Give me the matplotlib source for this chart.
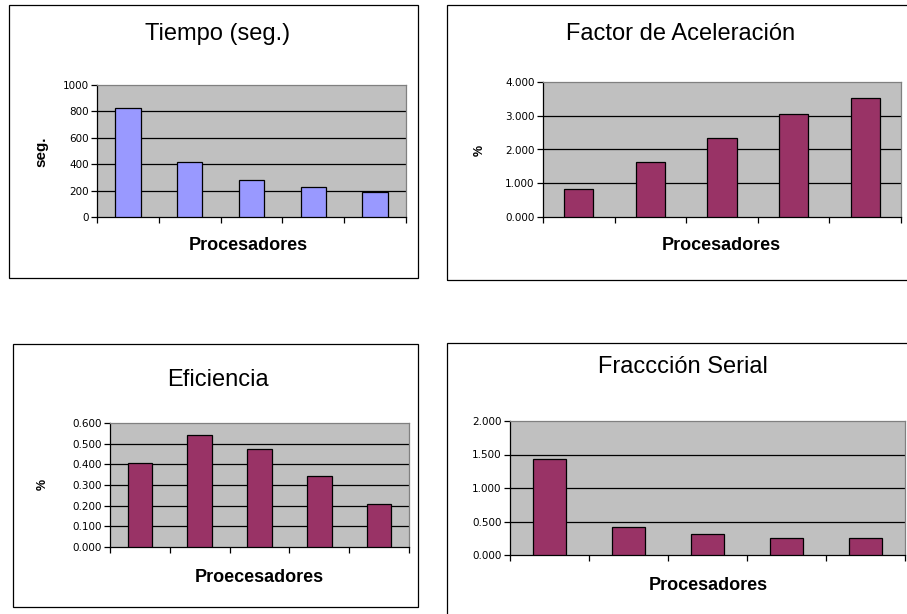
import numpy as np
import matplotlib
matplotlib.use("Agg")
import matplotlib.pyplot as plt
from matplotlib.patches import Rectangle

# values, one bar per processor count
categories = ["1", "2", "3", "4", "5"]
tiempo = [825, 420, 283, 228, 193]
aceleracion = [0.82, 1.62, 2.34, 3.05, 3.54]
eficiencia = [0.406, 0.544, 0.473, 0.342, 0.210]
fraccion = [1.43, 0.42, 0.31, 0.26, 0.26]

W, H = 907, 614
fig = plt.figure(figsize=(W / 100, H / 100), dpi=100)
fig.patch.set_facecolor("white")

TITLE_FONT = "Liberation Sans"
TICK_FONT = "DejaVu Sans"


def px_axes(left, top, right, bottom):
    return fig.add_axes([left / W, 1 - bottom / H, (right - left) / W, (bottom - top) / H])


def px_text(x, y, s, **kw):
    fig.text(x / W, 1 - y / H, s, ha="center", va="center", **kw)


def px_box(left, top, right, bottom):
    fig.add_artist(Rectangle((left / W, 1 - bottom / H), (right - left) / W, (bottom - top) / H,
                             transform=fig.transFigure, fill=False, edgecolor="#000000",
                             linewidth=0.9, clip_on=False))


def bar_panel(ax, values, color, ymax, step, fmt):
    x = np.arange(len(values))
    ax.set_facecolor("#C0C0C0")
    ax.bar(x, values, width=0.41, color=color, edgecolor="black", linewidth=0.9, zorder=3)
    ax.set_xlim(-0.5, len(values) - 0.5)
    ax.set_ylim(0, ymax)
    yt = np.arange(0, ymax + step / 2, step)
    ax.set_yticks(yt)
    ax.set_yticklabels([fmt.format(v) for v in yt], fontfamily=TICK_FONT, fontsize=7.5)
    for v in yt[1:-1]:
        ax.axhline(v, color="black", linewidth=0.9, zorder=1)
    ax.set_xticks(np.arange(len(values) + 1) - 0.5)
    ax.set_xticklabels([])
    ax.tick_params(axis="both", direction="out", length=4, width=0.9, color="black", pad=2)
    ax.spines["left"].set_color("black")
    ax.spines["bottom"].set_color("black")
    ax.spines["top"].set_color("#808080")
    ax.spines["right"].set_color("#808080")
    for s in ax.spines.values():
        s.set_linewidth(0.9)


# outer boxes of the four charts
px_box(9, 5, 418, 278)
px_box(447, 5, 920, 280)
px_box(13, 344, 418, 607)
px_box(447, 343, 920, 630)

title_kw = dict(fontfamily=TITLE_FONT, fontsize=17)
xlab_kw = dict(fontfamily=TITLE_FONT, fontsize=13, fontweight="bold")

# Tiempo
ax1 = px_axes(97, 85, 406, 217)
bar_panel(ax1, tiempo, "#9999FF", 1000, 200, "{:.0f}")
px_text(218, 34, "Tiempo (seg.)", **title_kw)
px_text(248, 245, "Procesadores", **xlab_kw)
px_text(41, 152, "seg.", fontfamily=TITLE_FONT, fontsize=11, fontweight="bold", rotation=90)

# Factor de Aceleracion
ax2 = px_axes(543, 82, 901, 217)
bar_panel(ax2, aceleracion, "#993366", 4, 1, "{:.3f}")
px_text(681, 34, "Factor de Aceleración", **title_kw)
px_text(721, 245, "Procesadores", **xlab_kw)
px_text(480, 150, "%", fontfamily=TITLE_FONT, fontsize=9, fontweight="bold", rotation=90)

# Eficiencia
ax3 = px_axes(110, 423, 409, 547)
bar_panel(ax3, eficiencia, "#993366", 0.6, 0.1, "{:.3f}")
px_text(218, 380, "Eficiencia", **title_kw)
px_text(259, 577, "Proecesadores", **xlab_kw)
px_text(43, 484, "%", fontfamily=TITLE_FONT, fontsize=9, fontweight="bold", rotation=90)

# Fraccion serial
ax4 = px_axes(510, 421, 905, 555)
bar_panel(ax4, fraccion, "#993366", 2, 0.5, "{:.3f}")
px_text(683, 367, "Fraccción Serial", **title_kw)
px_text(708, 585, "Procesadores", **xlab_kw)

fig.savefig("out.png", dpi=100)
